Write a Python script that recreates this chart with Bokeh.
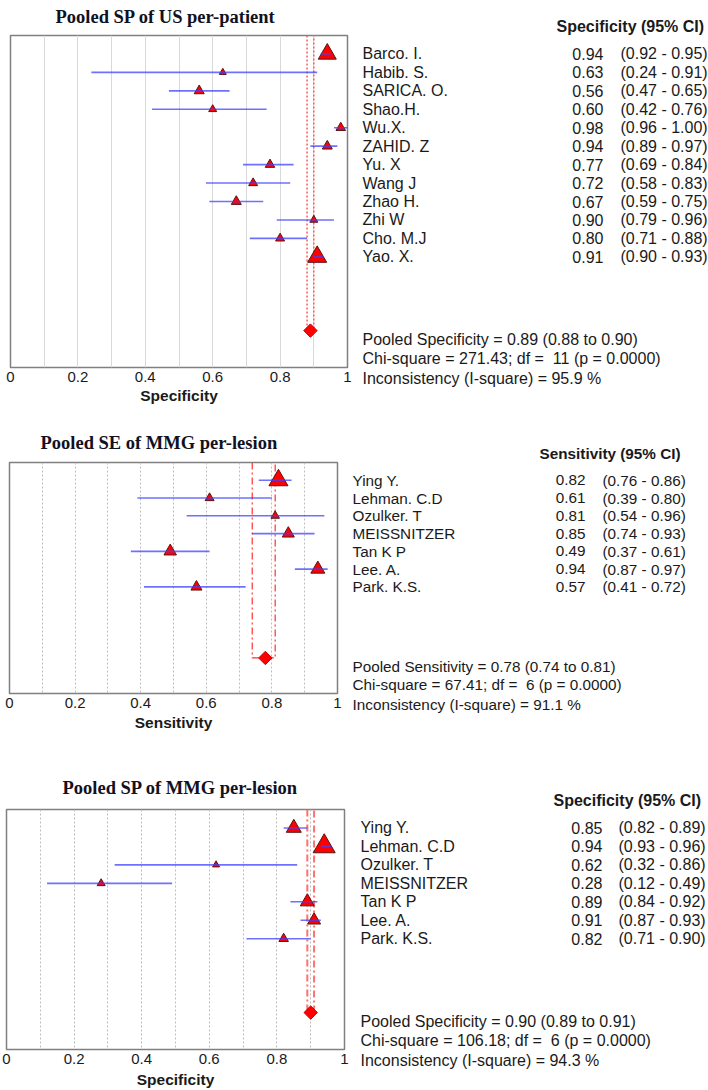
import numpy as np
from bokeh.plotting import figure
from bokeh.layouts import column, row
from bokeh.models import Range1d, FixedTicker, ColumnDataSource, LabelSet, Title
from bokeh.core.properties import value
from bokeh.embed import file_html
from bokeh.resources import INLINE

# ---------------- data ----------------
us_sp_studies = ["Barco. I.", "Habib. S.", "SARICA. O.", "Shao.H.", "Wu.X.", "ZAHID. Z",
                 "Yu. X", "Wang J", "Zhao H.", "Zhi W", "Cho. M.J", "Yao. X."]
us_sp_est = [0.94, 0.63, 0.56, 0.60, 0.98, 0.94, 0.77, 0.72, 0.67, 0.90, 0.80, 0.91]
us_sp_lo = [0.92, 0.24, 0.47, 0.42, 0.96, 0.89, 0.69, 0.58, 0.59, 0.79, 0.71, 0.90]
us_sp_hi = [0.95, 0.91, 0.65, 0.76, 1.00, 0.97, 0.84, 0.83, 0.75, 0.96, 0.88, 0.93]
us_sp_weight = [26.5, 4.0, 8.2, 5.2, 7.4, 8.2, 7.4, 6.6, 8.2, 5.2, 6.6, 29.5]
us_sp_pooled = (0.89, 0.88, 0.90)
us_sp_stats = (271.43, 11, 0.0000, 95.9)

mmg_studies = ["Ying Y.", "Lehman. C.D", "Ozulker. T", "MEISSNITZER", "Tan K P", "Lee. A.", "Park. K.S."]
mmg_se_est = [0.82, 0.61, 0.81, 0.85, 0.49, 0.94, 0.57]
mmg_se_lo = [0.76, 0.39, 0.54, 0.74, 0.37, 0.87, 0.41]
mmg_se_hi = [0.86, 0.80, 0.96, 0.93, 0.61, 0.97, 0.72]
mmg_se_weight = [29.5, 6.6, 5.9, 11.8, 12.8, 16.0, 9.9]
mmg_se_pooled = (0.78, 0.74, 0.81)
mmg_se_stats = (67.41, 6, 0.0000, 91.1)

mmg_sp_est = [0.85, 0.94, 0.62, 0.28, 0.89, 0.91, 0.82]
mmg_sp_lo = [0.82, 0.93, 0.32, 0.12, 0.84, 0.87, 0.71]
mmg_sp_hi = [0.89, 0.96, 0.86, 0.49, 0.92, 0.93, 0.90]
mmg_sp_weight = [18.4, 39.5, 4.0, 5.2, 16.0, 13.8, 7.4]
mmg_sp_pooled = (0.90, 0.89, 0.91)
mmg_sp_stats = (106.18, 6, 0.0000, 94.3)

x_ticks = [0, 0.2, 0.4, 0.6, 0.8, 1]
x_tick_labels = ["0", "0.2", "0.4", "0.6", "0.8", "1"]
grid_ticks = [0.1, 0.2, 0.3, 0.4, 0.5, 0.6, 0.7, 0.8, 0.9]

SANS = "Liberation Sans"
SERIF = "Liberation Serif"
PAGE_RIGHT = 708
TEXT_COLOR = "#1a1a1a"


def make_panel(title, title_x, measure, studies, est, lo, hi, weight, pooled, stats, lay):
    n = len(studies)
    y_top = -1
    d_row = n + 3
    y_bot = n + 5
    row_top, row_h = lay["row_top"], lay["row_h"]
    fl, ft, fb, fr = lay["frame_left"], lay["frame_top"], lay["frame_bottom"], lay["frame_right"]
    mbr = 8
    mbt = ft - row_top
    mbb = row_top + row_h - fb
    left_w = fl + (fr - fl) + mbr
    yr = Range1d(y_bot, y_top)

    p = figure(width=left_w, height=row_h, x_range=Range1d(0, 1), y_range=yr,
               y_axis_type=None, toolbar_location=None, output_backend="svg",
               min_border_left=fl, min_border_right=mbr,
               min_border_top=mbt, min_border_bottom=mbb)
    p.background_fill_color = "white"
    p.border_fill_color = "white"
    p.outline_line_color = "#808080"
    p.outline_line_width = 1.5

    p.title.text = title
    p.title.text_font = SERIF
    p.title.text_font_size = "18.5px"
    p.title.text_font_style = "bold"
    p.title.text_color = "#111122"
    p.title.align = "left"
    p.title.offset = title_x - fl
    p.title.standoff = lay["title_standoff"]
    p.title.vertical_align = lay["title_valign"]

    ax = p.xaxis[0]
    ax.ticker = FixedTicker(ticks=x_ticks, minor_ticks=[])
    ax.major_label_overrides = {t: l for t, l in zip(x_ticks, x_tick_labels)}
    ax.axis_line_color = None
    ax.major_tick_line_color = None
    ax.minor_tick_line_color = None
    ax.major_tick_out = 0
    ax.major_tick_in = 0
    ax.major_label_standoff = lay["tick_standoff"]
    ax.major_label_text_font = SANS
    ax.major_label_text_font_size = "15px"
    ax.major_label_text_color = TEXT_COLOR
    ax.axis_label = measure
    ax.axis_label_text_font = SANS
    ax.axis_label_text_font_size = "15.5px"
    ax.axis_label_text_font_style = "bold"
    ax.axis_label_text_color = TEXT_COLOR
    ax.axis_label_standoff = lay["label_standoff"]

    g = p.xgrid[0]
    g.ticker = FixedTicker(ticks=grid_ticks, minor_ticks=[])
    g.grid_line_color = lay["grid_color"]
    g.grid_line_width = 1
    if lay["grid_dash"]:
        g.grid_line_dash = lay["grid_dash"]

    sizes = [3.5 * np.sqrt(w) for w in weight]
    src = ColumnDataSource(dict(row=list(range(n)), est=est, lo=lo, hi=hi, size=sizes))

    pe, pl, ph = pooled
    p.line(x=[pl, pl, ph, ph], y=[y_top, d_row, d_row, y_top], line_color=lay["pool_color"],
           line_width=lay["pool_width"], line_dash=lay["pool_dash"])
    p.scatter(x="est", y="row", size="size", marker="triangle", fill_color="#ff0000",
              line_color="#5a1515", line_width=1, source=src)
    p.segment(x0="lo", y0="row", x1="hi", y1="row", line_color="#4040ff", line_alpha=0.75,
              line_width=1.6, source=src)
    p.scatter(x=[pe], y=[d_row], marker="square", angle=np.pi / 4, size=9.5,
              fill_color="#ff0000", line_color="#d00000", line_width=1)

    # ---- right text table (shares the row scale of the forest plot) ----
    rl = left_w
    q = figure(width=PAGE_RIGHT - rl, height=row_h, x_range=Range1d(rl, PAGE_RIGHT),
               y_range=yr, x_axis_type=None, y_axis_type=None,
               toolbar_location=None, output_backend="svg",
               min_border_left=0, min_border_right=0,
               min_border_top=mbt, min_border_bottom=mbb)
    q.outline_line_color = None
    q.background_fill_color = "white"
    q.border_fill_color = "white"
    q.grid.visible = False

    fs = lay["font"]
    chi2, df, pval, i2 = stats
    lines = ["Pooled %s = %.2f (%.2f to %.2f)" % (measure, pe, pl, ph),
             "Chi-square = %.2f; df = \u00a0%d (p = %.4f)" % (chi2, df, pval),
             "Inconsistency (I-square) = %.1f %%" % i2]
    left_src = ColumnDataSource(dict(
        x=[lay["name_x"]] * (n + 2),
        y=list(range(n)) + [d_row + 0.5, d_row + 1.5],
        text=list(studies) + lines[:2]))
    val_src = ColumnDataSource(dict(x=[lay["val_x"]] * n, y=list(range(n)),
                                    text=["%.2f" % v for v in est]))
    ci_src = ColumnDataSource(dict(x=[lay["ci_x"]] * n, y=list(range(n)),
                                   text=["(%.2f - %.2f)" % (a, b) for a, b in zip(lo, hi)]))
    common = dict(text_font=value(SANS), text_font_size=value(fs), text_color=TEXT_COLOR,
                  text_baseline="middle")
    q.add_layout(LabelSet(x="x", y="y", text="text", source=left_src, text_align="left", **common))
    q.add_layout(LabelSet(x="x", y="y", text="text", source=val_src, text_align="right", **common))
    q.add_layout(LabelSet(x="x", y="y", text="text", source=ci_src, text_align="left", **common))

    # column header above the table, last statistic line below it
    hdr = Title(text="%s (95%% CI)" % measure, align="left", offset=lay["hdr_x"] - rl,
                standoff=lay["hdr_standoff"], text_font=SANS, text_font_size=fs,
                text_font_style="bold", text_color=TEXT_COLOR)
    q.add_layout(hdr, "above")
    foot = Title(text=lines[2], align="left", offset=lay["name_x"] - rl,
                 standoff=lay["foot_standoff"], text_font=SANS, text_font_size=fs,
                 text_font_style="normal", text_color=TEXT_COLOR)
    q.add_layout(foot, "below")
    return row(p, q)


lay1 = dict(row_top=0, row_h=420, frame_left=10, frame_top=34, frame_bottom=367, frame_right=347,
            title_standoff=13, title_valign="top", tick_standoff=4, label_standoff=2,
            grid_color="#d9d9d9", grid_dash=None,
            pool_color="#ff5a5a", pool_width=1.5, pool_dash="2 2",
            font="16px", name_x=362, val_x=603, ci_x=620, hdr_x=556,
            hdr_standoff=2, foot_standoff=1)
lay2 = dict(row_top=420, row_h=332, frame_left=9, frame_top=461, frame_bottom=693, frame_right=337,
            title_standoff=20, title_valign="bottom", tick_standoff=4, label_standoff=3,
            grid_color="#bdbdbd", grid_dash="2 2",
            pool_color="#ff3030", pool_width=1.2, pool_dash="7 3 2 3",
            font="15.3px", name_x=352, val_x=585, ci_x=602, hdr_x=539,
            hdr_standoff=1, foot_standoff=1)
lay3 = dict(row_top=752, row_h=338, frame_left=6, frame_top=809, frame_bottom=1050, frame_right=344,
            title_standoff=24, title_valign="bottom", tick_standoff=4, label_standoff=4,
            grid_color="#bdbdbd", grid_dash="2 2",
            pool_color="#ff7070", pool_width=2, pool_dash="7 3 2 3",
            font="16px", name_x=360, val_x=602, ci_x=618, hdr_x=553,
            hdr_standoff=2, foot_standoff=1)

r1 = make_panel("Pooled SP of US per-patient", 55, "Specificity", us_sp_studies,
                us_sp_est, us_sp_lo, us_sp_hi, us_sp_weight, us_sp_pooled, us_sp_stats, lay1)
r2 = make_panel("Pooled SE of MMG per-lesion", 40, "Sensitivity", mmg_studies,
                mmg_se_est, mmg_se_lo, mmg_se_hi, mmg_se_weight, mmg_se_pooled, mmg_se_stats, lay2)
r3 = make_panel("Pooled SP of MMG per-lesion", 62, "Specificity", mmg_studies,
                mmg_sp_est, mmg_sp_lo, mmg_sp_hi, mmg_sp_weight, mmg_sp_pooled, mmg_sp_stats, lay3)

layout = column(r1, r2, r3, spacing=0)
open("out.html", "w").write(file_html(layout, INLINE))
